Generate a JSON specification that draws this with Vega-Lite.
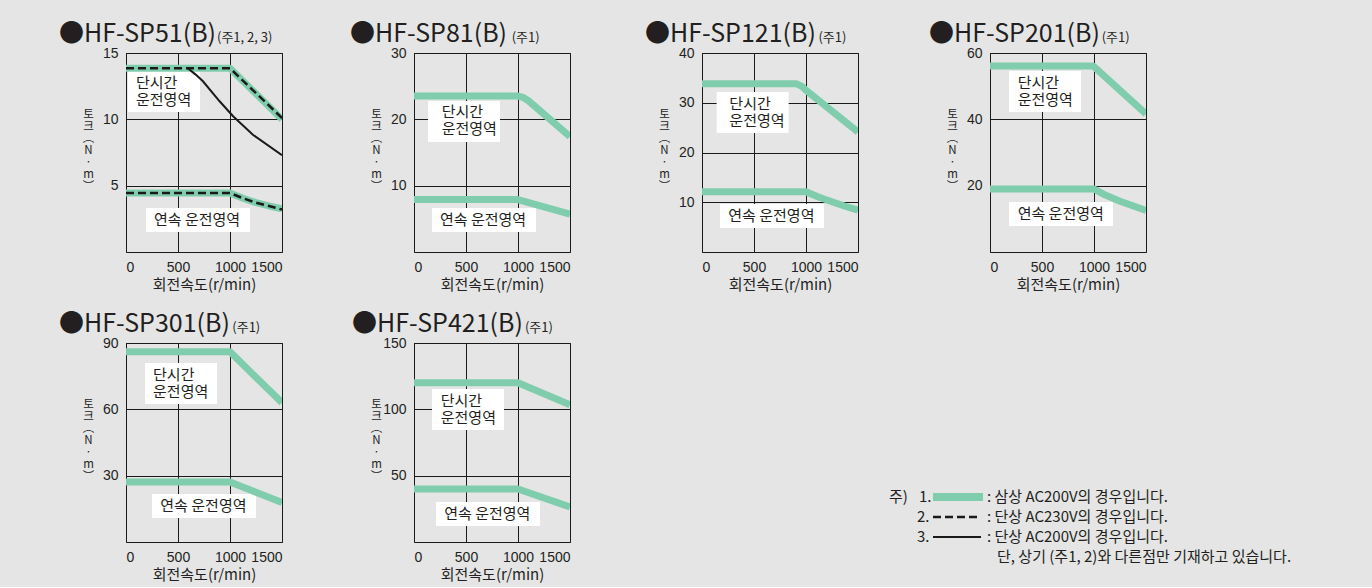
{
  "$schema": "https://vega.github.io/schema/vega-lite/v6.json",
  "background": "#e5e5e5",
  "padding": {"left": 58, "top": 21, "right": 80, "bottom": 4},
  "config": {
    "view": {"stroke": "#1a1a1a", "strokeWidth": 1},
    "axis": {"domain": false, "ticks": false, "grid": true, "gridColor": "#1a1a1a", "gridWidth": 1, "gridOpacity": 1, "labelOverlap": false,
      "labelFont": "Liberation Sans", "labelFontSize": 14, "labelColor": "#231f20",
      "titleFont": "Noto Sans CJK KR", "titleFontWeight": "normal", "titleFontSize": 15, "titleColor": "#231f20"},
    "axisX": {"labelPadding": 8, "titlePadding": 3, "format": "d"},
    "axisY": {"labelPadding": 8, "titleAngle": 0, "titleX": -38, "titleY": 61, "titleAlign": "center", "titleBaseline": "middle", "titleLineHeight": 12, "titleFontSize": 11.5},
    "title": {"anchor": "start", "frame": "group", "font": "Noto Sans CJK KR", "fontSize": 25, "fontWeight": "normal", "color": "#231f20", "baseline": "alphabetic", "offset": -15},
    "text": {"font": "Noto Sans CJK KR", "fontSize": 15, "color": "#231f20"}
  },
  "datasets": {
    "curves": [
      {"m": "SP51", "s": "g", "r": "short", "x": 0, "y": 13.85},
      {"m": "SP51", "s": "g", "r": "short", "x": 1000, "y": 13.85},
      {"m": "SP51", "s": "g", "r": "short", "x": 1500, "y": 10.0},
      {"m": "SP51", "s": "g", "r": "cont", "x": 0, "y": 4.45},
      {"m": "SP51", "s": "g", "r": "cont", "x": 1000, "y": 4.45},
      {"m": "SP51", "s": "g", "r": "cont", "x": 1125, "y": 4.05},
      {"m": "SP51", "s": "g", "r": "cont", "x": 1250, "y": 3.72},
      {"m": "SP51", "s": "g", "r": "cont", "x": 1375, "y": 3.47},
      {"m": "SP51", "s": "g", "r": "cont", "x": 1500, "y": 3.25},
      {"m": "SP51", "s": "d", "r": "short", "x": 0, "y": 13.85},
      {"m": "SP51", "s": "d", "r": "short", "x": 1000, "y": 13.85},
      {"m": "SP51", "s": "d", "r": "short", "x": 1500, "y": 10.1},
      {"m": "SP51", "s": "d", "r": "cont", "x": 0, "y": 4.45},
      {"m": "SP51", "s": "d", "r": "cont", "x": 1000, "y": 4.45},
      {"m": "SP51", "s": "d", "r": "cont", "x": 1125, "y": 4.05},
      {"m": "SP51", "s": "d", "r": "cont", "x": 1250, "y": 3.72},
      {"m": "SP51", "s": "d", "r": "cont", "x": 1375, "y": 3.47},
      {"m": "SP51", "s": "d", "r": "cont", "x": 1500, "y": 3.2},
      {"m": "SP51", "s": "k", "r": "short", "x": 594, "y": 13.85},
      {"m": "SP51", "s": "k", "r": "short", "x": 670, "y": 13.37},
      {"m": "SP51", "s": "k", "r": "short", "x": 740, "y": 12.87},
      {"m": "SP51", "s": "k", "r": "short", "x": 900, "y": 11.36},
      {"m": "SP51", "s": "k", "r": "short", "x": 1030, "y": 10.23},
      {"m": "SP51", "s": "k", "r": "short", "x": 1220, "y": 8.84},
      {"m": "SP51", "s": "k", "r": "short", "x": 1500, "y": 7.29},
      {"m": "SP81", "s": "g", "r": "short", "x": 0, "y": 23.5},
      {"m": "SP81", "s": "g", "r": "short", "x": 1000, "y": 23.5},
      {"m": "SP81", "s": "g", "r": "short", "x": 1050, "y": 23.3},
      {"m": "SP81", "s": "g", "r": "short", "x": 1100, "y": 22.8},
      {"m": "SP81", "s": "g", "r": "short", "x": 1500, "y": 17.4},
      {"m": "SP81", "s": "g", "r": "cont", "x": 0, "y": 7.9},
      {"m": "SP81", "s": "g", "r": "cont", "x": 1000, "y": 7.9},
      {"m": "SP81", "s": "g", "r": "cont", "x": 1500, "y": 5.7},
      {"m": "SP121", "s": "g", "r": "short", "x": 0, "y": 33.8},
      {"m": "SP121", "s": "g", "r": "short", "x": 910, "y": 33.8},
      {"m": "SP121", "s": "g", "r": "short", "x": 960, "y": 33.3},
      {"m": "SP121", "s": "g", "r": "short", "x": 1000, "y": 32.5},
      {"m": "SP121", "s": "g", "r": "short", "x": 1500, "y": 24.1},
      {"m": "SP121", "s": "g", "r": "cont", "x": 0, "y": 12.1},
      {"m": "SP121", "s": "g", "r": "cont", "x": 1000, "y": 12.1},
      {"m": "SP121", "s": "g", "r": "cont", "x": 1125, "y": 11.0},
      {"m": "SP121", "s": "g", "r": "cont", "x": 1250, "y": 10.1},
      {"m": "SP121", "s": "g", "r": "cont", "x": 1375, "y": 9.2},
      {"m": "SP121", "s": "g", "r": "cont", "x": 1500, "y": 8.4},
      {"m": "SP201", "s": "g", "r": "short", "x": 0, "y": 56.1},
      {"m": "SP201", "s": "g", "r": "short", "x": 990, "y": 56.1},
      {"m": "SP201", "s": "g", "r": "short", "x": 1020, "y": 55.3},
      {"m": "SP201", "s": "g", "r": "short", "x": 1500, "y": 41.6},
      {"m": "SP201", "s": "g", "r": "cont", "x": 0, "y": 19.0},
      {"m": "SP201", "s": "g", "r": "cont", "x": 1000, "y": 19.0},
      {"m": "SP201", "s": "g", "r": "cont", "x": 1100, "y": 17.3},
      {"m": "SP201", "s": "g", "r": "cont", "x": 1250, "y": 15.3},
      {"m": "SP201", "s": "g", "r": "cont", "x": 1500, "y": 12.5},
      {"m": "SP301", "s": "g", "r": "short", "x": 0, "y": 86},
      {"m": "SP301", "s": "g", "r": "short", "x": 1000, "y": 86},
      {"m": "SP301", "s": "g", "r": "short", "x": 1500, "y": 63},
      {"m": "SP301", "s": "g", "r": "cont", "x": 0, "y": 27.1},
      {"m": "SP301", "s": "g", "r": "cont", "x": 1000, "y": 27.1},
      {"m": "SP301", "s": "g", "r": "cont", "x": 1500, "y": 17.9},
      {"m": "SP421", "s": "g", "r": "short", "x": 0, "y": 120},
      {"m": "SP421", "s": "g", "r": "short", "x": 1000, "y": 120},
      {"m": "SP421", "s": "g", "r": "short", "x": 1500, "y": 103.4},
      {"m": "SP421", "s": "g", "r": "cont", "x": 0, "y": 40},
      {"m": "SP421", "s": "g", "r": "cont", "x": 1000, "y": 40},
      {"m": "SP421", "s": "g", "r": "cont", "x": 1500, "y": 26.4}
    ],
    "labels": [
      {"m": "SP51", "x": 96, "y": 13.27, "t": "단시간\n운전영역"},
      {"m": "SP51", "x": 269, "y": 2.94, "t": "연속 운전영역"},
      {"m": "SP81", "x": 266, "y": 22.1, "t": "단시간\n운전영역"},
      {"m": "SP81", "x": 250, "y": 5.88, "t": "연속 운전영역"},
      {"m": "SP121", "x": 263, "y": 31.2, "t": "단시간\n운전영역"},
      {"m": "SP121", "x": 253, "y": 8.64, "t": "연속 운전영역"},
      {"m": "SP201", "x": 266, "y": 53.07, "t": "단시간\n운전영역"},
      {"m": "SP201", "x": 266, "y": 13.66, "t": "연속 운전영역"},
      {"m": "SP301", "x": 260, "y": 78.56, "t": "단시간\n운전영역"},
      {"m": "SP301", "x": 330, "y": 19.45, "t": "연속 운전영역"},
      {"m": "SP421", "x": 257, "y": 111.3, "t": "단시간\n운전영역"},
      {"m": "SP421", "x": 291, "y": 26.16, "t": "연속 운전영역"}
    ],
    "boxes": [
      {"m": "SP51", "x": 19, "x2": 712, "y": 13.64, "y2": 10.55},
      {"m": "SP51", "x": 192, "x2": 1192, "y": 3.32, "y2": 1.51},
      {"m": "SP81", "x": 135, "x2": 827, "y": 22.76, "y2": 16.58},
      {"m": "SP81", "x": 173, "x2": 1173, "y": 6.63, "y2": 3.02},
      {"m": "SP121", "x": 141, "x2": 833, "y": 32.16, "y2": 23.92},
      {"m": "SP121", "x": 173, "x2": 1173, "y": 9.65, "y2": 4.82},
      {"m": "SP201", "x": 183, "x2": 875, "y": 54.57, "y2": 42.21},
      {"m": "SP201", "x": 183, "x2": 1183, "y": 15.08, "y2": 7.84},
      {"m": "SP301", "x": 183, "x2": 875, "y": 80.95, "y2": 62.41},
      {"m": "SP301", "x": 250, "x2": 1250, "y": 21.71, "y2": 10.85},
      {"m": "SP421", "x": 173, "x2": 865, "y": 115.3, "y2": 84.4},
      {"m": "SP421", "x": 212, "x2": 1212, "y": 30.15, "y2": 12.06}
    ],
    "notes": [
      {"m": "SP51", "x": 875, "y": 15.83, "t": "(주1, 2, 3)"},
      {"m": "SP81", "x": 939, "y": 31.66, "t": "(주1)"},
      {"m": "SP121", "x": 1119, "y": 42.21, "t": "(주1)"},
      {"m": "SP201", "x": 1074, "y": 63.32, "t": "(주1)"},
      {"m": "SP301", "x": 1022, "y": 94.98, "t": "(주1)"},
      {"m": "SP421", "x": 1067, "y": 158.3, "t": "(주1)"}
    ],
    "legendText": [
      {"x": 187, "y": 154, "t": "주)"},
      {"x": 217, "y": 154, "t": "1."},
      {"x": 285, "y": 154, "t": ": 삼상 AC200V의 경우입니다."},
      {"x": 215, "y": 174, "t": "2."},
      {"x": 285, "y": 174, "t": ": 단상 AC230V의 경우입니다."},
      {"x": 215, "y": 194, "t": "3."},
      {"x": 285, "y": 194, "t": ": 단상 AC200V의 경우입니다."},
      {"x": 295, "y": 214, "t": "단, 상기 (주1, 2)와 다른점만 기재하고 있습니다."}
    ],
    "legendLines": [
      {"s": "g", "x": 231, "x2": 281, "y": 154},
      {"s": "d", "x": 231, "x2": 277, "y": 174},
      {"s": "k", "x": 231, "x2": 279, "y": 194}
    ]
  },
  "columns": 4,
  "spacing": {"row": 91, "column": 132},
  "bounds": "flush",
  "concat": [
    {
      "width": 156, "height": 199,
      "title": {"text": "●HF-SP51(B)", "dx": -67},
      "encoding": {
        "x": {"field": "x", "type": "quantitative", "scale": {"domain": [0, 1500], "nice": false}, "axis": {"values": [0, 500, 1000, 1500], "title": "회전속도(r/min)"}},
        "y": {"field": "y", "type": "quantitative", "scale": {"domain": [0, 15], "nice": false}, "axis": {"values": [5, 10, 15], "title": ["토", "크", "︵", "N", "·", "m", "︶"]}}
      },
      "layer": [
        {"data": {"name": "boxes"}, "transform": [{"filter": "datum.m === 'SP51'"}], "mark": {"type": "rect", "color": "white"}, "encoding": {"x2": {"field": "x2"}, "y2": {"field": "y2"}}},
        {"data": {"name": "curves"}, "transform": [{"filter": "datum.m === 'SP51' && datum.s === 'g'"}], "mark": {"type": "line", "color": "#7fcdac", "strokeWidth": 7, "strokeJoin": "round", "clip": true}, "encoding": {"detail": {"field": "r"}}},
        {"data": {"name": "curves"}, "transform": [{"filter": "datum.m === 'SP51' && datum.s === 'd'"}], "mark": {"type": "line", "color": "#1a1a1a", "strokeWidth": 2.5, "strokeDash": [8, 4], "clip": true}, "encoding": {"detail": {"field": "r"}}},
        {"data": {"name": "curves"}, "transform": [{"filter": "datum.m === 'SP51' && datum.s === 'k'"}], "mark": {"type": "line", "color": "#1a1a1a", "strokeWidth": 2, "clip": true}, "encoding": {"detail": {"field": "r"}}},
        {"data": {"name": "labels"}, "transform": [{"filter": "datum.m === 'SP51'"}], "mark": {"type": "text", "align": "left", "baseline": "top", "lineHeight": 17, "lineBreak": "\n"}, "encoding": {"text": {"field": "t"}}},
        {"data": {"name": "notes"}, "transform": [{"filter": "datum.m === 'SP51'"}], "mark": {"type": "text", "align": "left", "baseline": "alphabetic", "fontSize": 13}, "encoding": {"text": {"field": "t"}}}
      ]
    },
    {
      "width": 156, "height": 199,
      "title": {"text": "●HF-SP81(B)", "dx": -64},
      "encoding": {
        "x": {"field": "x", "type": "quantitative", "scale": {"domain": [0, 1500], "nice": false}, "axis": {"values": [0, 500, 1000, 1500], "title": "회전속도(r/min)"}},
        "y": {"field": "y", "type": "quantitative", "scale": {"domain": [0, 30], "nice": false}, "axis": {"values": [10, 20, 30], "title": ["토", "크", "︵", "N", "·", "m", "︶"]}}
      },
      "layer": [
        {"data": {"name": "boxes"}, "transform": [{"filter": "datum.m === 'SP81'"}], "mark": {"type": "rect", "color": "white"}, "encoding": {"x2": {"field": "x2"}, "y2": {"field": "y2"}}},
        {"data": {"name": "curves"}, "transform": [{"filter": "datum.m === 'SP81' && datum.s === 'g'"}], "mark": {"type": "line", "color": "#7fcdac", "strokeWidth": 7, "strokeJoin": "round", "clip": true}, "encoding": {"detail": {"field": "r"}}},
        {"data": {"name": "labels"}, "transform": [{"filter": "datum.m === 'SP81'"}], "mark": {"type": "text", "align": "left", "baseline": "top", "lineHeight": 17, "lineBreak": "\n"}, "encoding": {"text": {"field": "t"}}},
        {"data": {"name": "notes"}, "transform": [{"filter": "datum.m === 'SP81'"}], "mark": {"type": "text", "align": "left", "baseline": "alphabetic", "fontSize": 13}, "encoding": {"text": {"field": "t"}}}
      ]
    },
    {
      "width": 156, "height": 199,
      "title": {"text": "●HF-SP121(B)", "dx": -57},
      "encoding": {
        "x": {"field": "x", "type": "quantitative", "scale": {"domain": [0, 1500], "nice": false}, "axis": {"values": [0, 500, 1000, 1500], "title": "회전속도(r/min)"}},
        "y": {"field": "y", "type": "quantitative", "scale": {"domain": [0, 40], "nice": false}, "axis": {"values": [10, 20, 30, 40], "title": ["토", "크", "︵", "N", "·", "m", "︶"]}}
      },
      "layer": [
        {"data": {"name": "boxes"}, "transform": [{"filter": "datum.m === 'SP121'"}], "mark": {"type": "rect", "color": "white"}, "encoding": {"x2": {"field": "x2"}, "y2": {"field": "y2"}}},
        {"data": {"name": "curves"}, "transform": [{"filter": "datum.m === 'SP121' && datum.s === 'g'"}], "mark": {"type": "line", "color": "#7fcdac", "strokeWidth": 7, "strokeJoin": "round", "clip": true}, "encoding": {"detail": {"field": "r"}}},
        {"data": {"name": "labels"}, "transform": [{"filter": "datum.m === 'SP121'"}], "mark": {"type": "text", "align": "left", "baseline": "top", "lineHeight": 17, "lineBreak": "\n"}, "encoding": {"text": {"field": "t"}}},
        {"data": {"name": "notes"}, "transform": [{"filter": "datum.m === 'SP121'"}], "mark": {"type": "text", "align": "left", "baseline": "alphabetic", "fontSize": 13}, "encoding": {"text": {"field": "t"}}}
      ]
    },
    {
      "width": 156, "height": 199,
      "title": {"text": "●HF-SP201(B)", "dx": -61},
      "encoding": {
        "x": {"field": "x", "type": "quantitative", "scale": {"domain": [0, 1500], "nice": false}, "axis": {"values": [0, 500, 1000, 1500], "title": "회전속도(r/min)"}},
        "y": {"field": "y", "type": "quantitative", "scale": {"domain": [0, 60], "nice": false}, "axis": {"values": [20, 40, 60], "title": ["토", "크", "︵", "N", "·", "m", "︶"]}}
      },
      "layer": [
        {"data": {"name": "boxes"}, "transform": [{"filter": "datum.m === 'SP201'"}], "mark": {"type": "rect", "color": "white"}, "encoding": {"x2": {"field": "x2"}, "y2": {"field": "y2"}}},
        {"data": {"name": "curves"}, "transform": [{"filter": "datum.m === 'SP201' && datum.s === 'g'"}], "mark": {"type": "line", "color": "#7fcdac", "strokeWidth": 7, "strokeJoin": "round", "clip": true}, "encoding": {"detail": {"field": "r"}}},
        {"data": {"name": "labels"}, "transform": [{"filter": "datum.m === 'SP201'"}], "mark": {"type": "text", "align": "left", "baseline": "top", "lineHeight": 17, "lineBreak": "\n"}, "encoding": {"text": {"field": "t"}}},
        {"data": {"name": "notes"}, "transform": [{"filter": "datum.m === 'SP201'"}], "mark": {"type": "text", "align": "left", "baseline": "alphabetic", "fontSize": 13}, "encoding": {"text": {"field": "t"}}}
      ]
    },
    {
      "width": 156, "height": 199,
      "title": {"text": "●HF-SP301(B)", "dx": -67},
      "encoding": {
        "x": {"field": "x", "type": "quantitative", "scale": {"domain": [0, 1500], "nice": false}, "axis": {"values": [0, 500, 1000, 1500], "title": "회전속도(r/min)"}},
        "y": {"field": "y", "type": "quantitative", "scale": {"domain": [0, 90], "nice": false}, "axis": {"values": [30, 60, 90], "title": ["토", "크", "︵", "N", "·", "m", "︶"]}}
      },
      "layer": [
        {"data": {"name": "boxes"}, "transform": [{"filter": "datum.m === 'SP301'"}], "mark": {"type": "rect", "color": "white"}, "encoding": {"x2": {"field": "x2"}, "y2": {"field": "y2"}}},
        {"data": {"name": "curves"}, "transform": [{"filter": "datum.m === 'SP301' && datum.s === 'g'"}], "mark": {"type": "line", "color": "#7fcdac", "strokeWidth": 7, "strokeJoin": "round", "clip": true}, "encoding": {"detail": {"field": "r"}}},
        {"data": {"name": "labels"}, "transform": [{"filter": "datum.m === 'SP301'"}], "mark": {"type": "text", "align": "left", "baseline": "top", "lineHeight": 17, "lineBreak": "\n"}, "encoding": {"text": {"field": "t"}}},
        {"data": {"name": "notes"}, "transform": [{"filter": "datum.m === 'SP301'"}], "mark": {"type": "text", "align": "left", "baseline": "alphabetic", "fontSize": 13}, "encoding": {"text": {"field": "t"}}}
      ]
    },
    {
      "width": 156, "height": 199,
      "title": {"text": "●HF-SP421(B)", "dx": -62},
      "encoding": {
        "x": {"field": "x", "type": "quantitative", "scale": {"domain": [0, 1500], "nice": false}, "axis": {"values": [0, 500, 1000, 1500], "title": "회전속도(r/min)"}},
        "y": {"field": "y", "type": "quantitative", "scale": {"domain": [0, 150], "nice": false}, "axis": {"values": [50, 100, 150], "title": ["토", "크", "︵", "N", "·", "m", "︶"]}}
      },
      "layer": [
        {"data": {"name": "boxes"}, "transform": [{"filter": "datum.m === 'SP421'"}], "mark": {"type": "rect", "color": "white"}, "encoding": {"x2": {"field": "x2"}, "y2": {"field": "y2"}}},
        {"data": {"name": "curves"}, "transform": [{"filter": "datum.m === 'SP421' && datum.s === 'g'"}], "mark": {"type": "line", "color": "#7fcdac", "strokeWidth": 7, "strokeJoin": "round", "clip": true}, "encoding": {"detail": {"field": "r"}}},
        {"data": {"name": "labels"}, "transform": [{"filter": "datum.m === 'SP421'"}], "mark": {"type": "text", "align": "left", "baseline": "top", "lineHeight": 17, "lineBreak": "\n"}, "encoding": {"text": {"field": "t"}}},
        {"data": {"name": "notes"}, "transform": [{"filter": "datum.m === 'SP421'"}], "mark": {"type": "text", "align": "left", "baseline": "alphabetic", "fontSize": 13}, "encoding": {"text": {"field": "t"}}}
      ]
    },
    {
      "width": 156, "height": 199,
      "view": {"stroke": null},
      "encoding": {
        "x": {"field": "x", "type": "quantitative", "scale": {"domain": [0, 156], "nice": false}, "axis": null},
        "y": {"field": "y", "type": "quantitative", "scale": {"domain": [0, 199], "nice": false, "reverse": true}, "axis": null}
      },
      "layer": [
        {"data": {"name": "legendLines"}, "transform": [{"filter": "datum.s === 'g'"}], "mark": {"type": "rule", "color": "#7fcdac", "strokeWidth": 8}, "encoding": {"x2": {"field": "x2"}}},
        {"data": {"name": "legendLines"}, "transform": [{"filter": "datum.s === 'd'"}], "mark": {"type": "rule", "color": "#1a1a1a", "strokeWidth": 2.5, "strokeDash": [8, 4]}, "encoding": {"x2": {"field": "x2"}}},
        {"data": {"name": "legendLines"}, "transform": [{"filter": "datum.s === 'k'"}], "mark": {"type": "rule", "color": "#1a1a1a", "strokeWidth": 2}, "encoding": {"x2": {"field": "x2"}}},
        {"data": {"name": "legendText"}, "mark": {"type": "text", "align": "left", "baseline": "middle", "fontSize": 15}, "encoding": {"text": {"field": "t"}}}
      ]
    }
  ]
}
